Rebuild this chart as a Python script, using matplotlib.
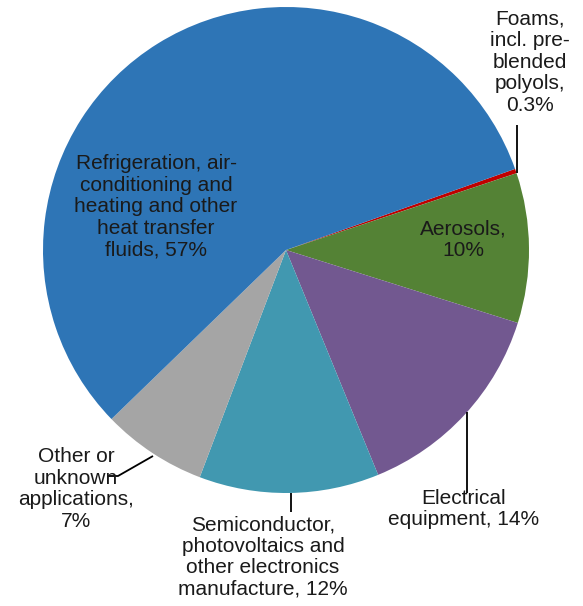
import matplotlib
matplotlib.use("Agg")
import matplotlib.pyplot as plt

# Dados (em %), ordem horaria a partir de Foams
categorias = [
    "Foams,\nincl. pre-\nblended\npolyols,\n0.3%",
    "Aerosols,\n10%",
    "Electrical\nequipment, 14%",
    "Semiconductor,\nphotovoltaics and\nother electronics\nmanufacture, 12%",
    "Other or\nunknown\napplications,\n7%",
    "Refrigeration, air-\nconditioning and\nheating and other\nheat transfer\nfluids, 57%",
]
valores = [0.3, 10, 14, 12, 7, 57]
cores = ["#C00000", "#548235", "#725890", "#4198B0", "#A5A5A5", "#2E75B6"]

plt.rcParams["font.family"] = ["Liberation Sans", "DejaVu Sans"]

W, H = 583, 606
fig = plt.figure(figsize=(W / 100, H / 100), dpi=100)
ax = fig.add_axes([0, 0, 1, 1])

cx, cy, r = 286, H - 250, 243
ax.pie(valores, colors=cores, startangle=19.5, counterclock=False,
       center=(cx, cy), radius=r, frame=True,
       wedgeprops=dict(linewidth=0))
ax.set_xlim(0, W)
ax.set_ylim(0, H)
ax.set_aspect("equal")
ax.axis("off")


def py(y):
    return H - y


# posicoes dos rotulos (pixels do original)
rotulos = [
    (530, 62),   # foams
    (463, 240),  # aerosols
    (464, 509),  # electrical
    (263, 557),  # semiconductor
    (76, 489),   # other
    (156, 207),  # refrigeration
]
for txt, (x, y) in zip(categorias, rotulos):
    ax.text(x, py(y), txt, ha="center", va="center", fontsize=15,
            linespacing=1.17, color="#1a1a1a")

# linhas de chamada
kw = dict(color="black", linewidth=1.3, solid_capstyle="butt")
ax.plot([517, 517], [py(173), py(125)], **kw)
ax.plot([466.5, 466.5], [py(412), py(493)], **kw)
ax.plot([290.5, 290.5], [py(493), py(512)], **kw)
ax.plot([153, 118, 108], [py(456), py(476), py(476)], **kw)

fig.savefig("out.png", dpi=100)
